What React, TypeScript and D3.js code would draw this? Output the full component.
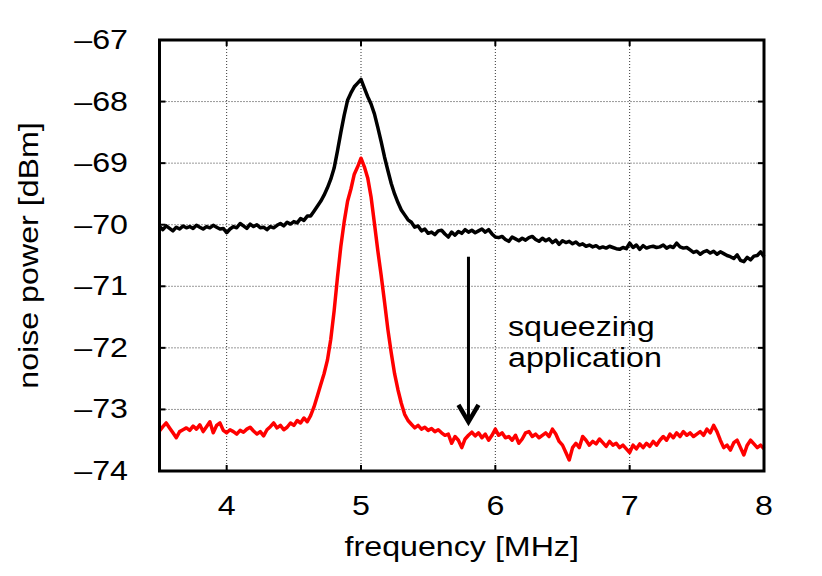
import React from "react";
import * as d3 from "d3";

const xTicks = [4, 5, 6, 7, 8];
const yTicks = [-67, -68, -69, -70, -71, -72, -73, -74];
const freqStart = 3.5;
const freqStep = 0.025;

const beforeSqueezing = [
  -70.03, -70.08, -70.02, -70.06, -70.10, -70.04, -70.07, -70.02, -70.05, -70.03,
  -70.06, -70.01, -70.04, -70.07, -70.03, -70.05, -70.01, -70.04, -70.07, -70.06,
  -70.13, -70.07, -70.03, -70.05, -69.98, -70.02, -70.06, -69.99, -70.03, -70.00,
  -70.05, -70.04, -70.08, -70.03, -70.05, -70.01, -69.98, -70.02, -69.96, -69.99,
  -69.95, -69.97, -69.90, -69.93, -69.86, -69.86, -69.78, -69.70, -69.62, -69.52,
  -69.40, -69.26, -69.08, -68.80, -68.50, -68.22, -67.98, -67.86, -67.76, -67.70,
  -67.64, -67.78, -67.92, -68.04, -68.20, -68.42, -68.65, -68.90, -69.12, -69.33,
  -69.50, -69.64, -69.76, -69.84, -69.92, -69.96, -70.04, -70.02, -70.10, -70.07,
  -70.14, -70.12, -70.16, -70.10, -70.09, -70.15, -70.20, -70.12, -70.17, -70.11,
  -70.14, -70.08, -70.12, -70.09, -70.13, -70.10, -70.07, -70.12, -70.08, -70.15,
  -70.20, -70.21, -70.19, -70.24, -70.27, -70.20, -70.23, -70.26, -70.22, -70.25,
  -70.21, -70.19, -70.24, -70.27, -70.22, -70.26, -70.23, -70.29, -70.25, -70.32,
  -70.26, -70.29, -70.27, -70.31, -70.28, -70.33, -70.31, -70.35, -70.33, -70.36,
  -70.34, -70.38, -70.36, -70.38, -70.35, -70.37, -70.39, -70.40, -70.37, -70.39,
  -70.30, -70.37, -70.33, -70.40, -70.34, -70.38, -70.36, -70.35, -70.37, -70.36,
  -70.33, -70.38, -70.35, -70.37, -70.30, -70.36, -70.38, -70.37, -70.41, -70.45,
  -70.43, -70.48, -70.44, -70.42, -70.46, -70.43, -70.48, -70.44, -70.47, -70.50,
  -70.52, -70.55, -70.49, -70.58, -70.60, -70.53, -70.57, -70.51, -70.50, -70.44,
  -70.52,
];

const afterSqueezing = [
  -73.35, -73.28, -73.22, -73.30, -73.38, -73.46, -73.36, -73.33, -73.30, -73.34,
  -73.27, -73.32, -73.25, -73.36, -73.28, -73.20, -73.38, -73.26, -73.22, -73.34,
  -73.38, -73.33, -73.36, -73.40, -73.34, -73.37, -73.32, -73.29, -73.35, -73.40,
  -73.36, -73.43, -73.33, -73.28, -73.22, -73.30, -73.26, -73.33, -73.29, -73.22,
  -73.26, -73.18, -73.22, -73.14, -73.20, -73.10, -72.96, -72.78, -72.60, -72.42,
  -72.20, -71.86, -71.40, -70.85, -70.35, -69.95, -69.62, -69.42, -69.18, -69.06,
  -68.92, -69.06, -69.24, -69.55, -69.98, -70.42, -70.82, -71.25, -71.70, -72.08,
  -72.42, -72.68, -72.90, -73.08, -73.18, -73.24, -73.30, -73.26, -73.32, -73.29,
  -73.34, -73.31, -73.36, -73.33, -73.38, -73.42, -73.40, -73.55, -73.44, -73.50,
  -73.62, -73.48, -73.42, -73.37, -73.43, -73.38, -73.46, -73.40, -73.50, -73.42,
  -73.32, -73.42, -73.38, -73.46, -73.44, -73.50, -73.42, -73.55, -73.48, -73.38,
  -73.36, -73.44, -73.40, -73.46, -73.42, -73.38, -73.44, -73.32, -73.40, -73.52,
  -73.58, -73.70, -73.82, -73.62, -73.55, -73.62, -73.44, -73.50, -73.58, -73.52,
  -73.56, -73.48, -73.54, -73.60, -73.52, -73.58, -73.55, -73.62, -73.58, -73.64,
  -73.70, -73.58, -73.64, -73.56, -73.62, -73.55, -73.60, -73.52, -73.58, -73.50,
  -73.44, -73.50, -73.40, -73.46, -73.38, -73.44, -73.36, -73.42, -73.38, -73.44,
  -73.40, -73.36, -73.42, -73.32, -73.38, -73.26, -73.36, -73.50, -73.62, -73.58,
  -73.66, -73.54, -73.50, -73.62, -73.74, -73.58, -73.50, -73.56, -73.62, -73.58,
  -73.64,
];

const arrowFreq = 5.8;
const arrowFrom = -70.52;
const arrowTo = -73.25;
const annotationLines = ["squeezing", "application"];

const FONT = "'Liberation Sans', Arial, Helvetica, sans-serif";
const FS = 28;
const SX = 1.15;

export default function App() {
  const W = 822;
  const H = 576;
  const left = 159.5;
  const right = 764;
  const top = 40;
  const bottom = 471;

  const x = d3.scaleLinear().domain([3.5, 8]).range([left, right]);
  const y = d3.scaleLinear().domain([-67, -74]).range([top, bottom]);

  const freqs = beforeSqueezing.map((_, i) => freqStart + i * freqStep);
  const line = d3
    .line<number>()
    .x((_, i) => x(freqs[i]))
    .y((d) => y(d));

  const gridColor = "#333";
  const ax = x(arrowFreq);

  return (
    <svg
      width={W}
      height={H}
      style={{ position: "absolute", left: 0, top: 0, background: "#fff" }}
    >
      {/* grid */}
      {xTicks
        .filter((t) => t > 3.5 && t < 8)
        .map((t) => (
          <line
            key={"gx" + t}
            x1={x(t)}
            x2={x(t)}
            y1={top}
            y2={bottom}
            stroke={gridColor}
            strokeWidth={1}
            strokeDasharray="1,2"
          />
        ))}
      {yTicks
        .filter((t) => t < -67 && t > -74)
        .map((t) => (
          <line
            key={"gy" + t}
            x1={left}
            x2={right}
            y1={y(t)}
            y2={y(t)}
            stroke={gridColor}
            strokeWidth={1}
            strokeDasharray="1,2"
          />
        ))}

      {/* annotation text */}
      {annotationLines.map((s, i) => (
        <g key={s} transform={`translate(508, ${336 + i * 31}) scale(${SX},1)`}>
          <text fontFamily={FONT} fontSize={FS} fill="#000">
            {s}
          </text>
        </g>
      ))}

      {/* traces */}
      <path d={line(beforeSqueezing) || ""} fill="none" stroke="#000" strokeWidth={3.5} strokeLinejoin="round" />
      <path d={line(afterSqueezing) || ""} fill="none" stroke="#ff0000" strokeWidth={3.5} strokeLinejoin="round" />

      {/* arrow */}
      <line x1={ax} x2={ax} y1={y(arrowFrom)} y2={y(arrowTo) - 3} stroke="#000" strokeWidth={3} />
      <polyline
        points={`${ax - 10},${y(arrowTo) - 20} ${ax},${y(arrowTo) - 3} ${ax + 10},${y(arrowTo) - 20}`}
        fill="none"
        stroke="#000"
        strokeWidth={4.5}
        strokeLinejoin="miter"
      />

      {/* ticks */}
      {xTicks.map((t) => (
        <g key={"tx" + t}>
          <line x1={x(t)} x2={x(t)} y1={bottom} y2={bottom - 6} stroke="#000" strokeWidth={2} />
          <line x1={x(t)} x2={x(t)} y1={top} y2={top + 6} stroke="#000" strokeWidth={2} />
          <g transform={`translate(${x(t)}, 515) scale(${SX},1)`}>
            <text fontFamily={FONT} fontSize={FS} textAnchor="middle" fill="#000">
              {String(t)}
            </text>
          </g>
        </g>
      ))}
      {yTicks.map((t) => (
        <g key={"ty" + t}>
          <line x1={left} x2={left + 6} y1={y(t)} y2={y(t)} stroke="#000" strokeWidth={2} />
          <line x1={right} x2={right - 6} y1={y(t)} y2={y(t)} stroke="#000" strokeWidth={2} />
          <g transform={`translate(128, ${y(t) + 9}) scale(${SX},1)`}>
            <text fontFamily={FONT} fontSize={FS} textAnchor="end" fill="#000">
              {"\u2013" + String(Math.abs(t))}
            </text>
          </g>
        </g>
      ))}

      {/* frame */}
      <rect x={left} y={top} width={right - left} height={bottom - top} fill="none" stroke="#000" strokeWidth={3} />

      {/* axis titles */}
      <g transform={`translate(${(left + right) / 2}, 556) scale(${SX},1)`}>
        <text fontFamily={FONT} fontSize={FS} textAnchor="middle" fill="#000">
          frequency [MHz]
        </text>
      </g>
      <g transform={`translate(38, ${(top + bottom) / 2}) rotate(-90) scale(${SX},1)`}>
        <text fontFamily={FONT} fontSize={FS} textAnchor="middle" fill="#000">
          noise power [dBm]
        </text>
      </g>
    </svg>
  );
}
